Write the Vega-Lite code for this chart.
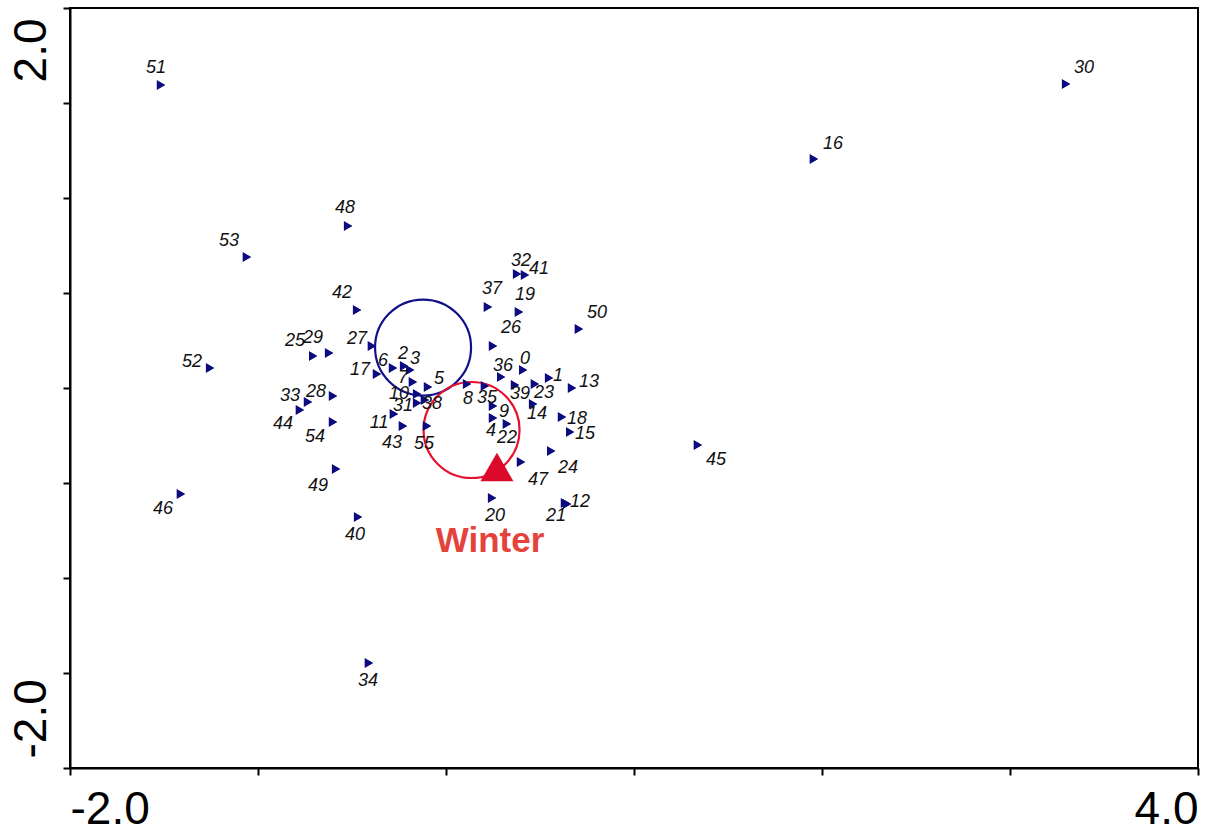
{
  "$schema": "https://vega.github.io/schema/vega-lite/v6.json",
  "width": 1128,
  "height": 760,
  "autosize": "none",
  "padding": {"left": 70, "top": 8, "right": 10, "bottom": 61},
  "background": "white",
  "config": {
    "view": {"stroke": "black", "strokeWidth": 2},
    "axis": {
      "grid": false,
      "domainColor": "black",
      "domainWidth": 2,
      "tickColor": "black",
      "tickWidth": 2,
      "tickSize": 7,
      "labelFont": "Liberation Sans",
      "labelFontSize": 46,
      "labelColor": "black",
      "labelPadding": 12
    }
  },
  "datasets": {
    "species": [
      {"id": "51", "x": -1.516, "y": 1.595, "lx": -1.543, "ly": 1.684},
      {"id": "30", "x": 3.298, "y": 1.6, "lx": 3.394, "ly": 1.684},
      {"id": "16", "x": 1.957, "y": 1.205, "lx": 2.059, "ly": 1.284},
      {"id": "48", "x": -0.521, "y": 0.853, "lx": -0.537, "ly": 0.947},
      {"id": "53", "x": -1.059, "y": 0.689, "lx": -1.154, "ly": 0.774},
      {"id": "52", "x": -1.255, "y": 0.105, "lx": -1.351, "ly": 0.137},
      {"id": "42", "x": -0.473, "y": 0.411, "lx": -0.553, "ly": 0.5},
      {"id": "25", "x": -0.707, "y": 0.168, "lx": -0.803, "ly": 0.247},
      {"id": "29", "x": -0.622, "y": 0.184, "lx": -0.707, "ly": 0.263},
      {"id": "27", "x": -0.394, "y": 0.221, "lx": -0.473, "ly": 0.258},
      {"id": "6", "x": -0.282, "y": 0.105, "lx": -0.335, "ly": 0.142},
      {"id": "2", "x": -0.223, "y": 0.116, "lx": -0.229, "ly": 0.179},
      {"id": "3", "x": -0.191, "y": 0.095, "lx": -0.165, "ly": 0.153},
      {"id": "17", "x": -0.367, "y": 0.074, "lx": -0.457, "ly": 0.095},
      {"id": "7", "x": -0.176, "y": 0.032, "lx": -0.229, "ly": 0.053},
      {"id": "5", "x": -0.096, "y": 0.005, "lx": -0.037, "ly": 0.047},
      {"id": "10", "x": -0.154, "y": -0.032, "lx": -0.25, "ly": -0.032},
      {"id": "31", "x": -0.154, "y": -0.079, "lx": -0.229, "ly": -0.095},
      {"id": "38", "x": -0.112, "y": -0.063, "lx": -0.074, "ly": -0.084},
      {"id": "11", "x": -0.277, "y": -0.137, "lx": -0.356, "ly": -0.184},
      {"id": "43", "x": -0.229, "y": -0.2, "lx": -0.287, "ly": -0.289},
      {"id": "55", "x": -0.101, "y": -0.2, "lx": -0.117, "ly": -0.295},
      {"id": "33", "x": -0.734, "y": -0.074, "lx": -0.83, "ly": -0.042},
      {"id": "28", "x": -0.601, "y": -0.042, "lx": -0.691, "ly": -0.021},
      {"id": "44", "x": -0.777, "y": -0.116, "lx": -0.867, "ly": -0.189},
      {"id": "54", "x": -0.601, "y": -0.179, "lx": -0.697, "ly": -0.258},
      {"id": "49", "x": -0.585, "y": -0.426, "lx": -0.681, "ly": -0.516},
      {"id": "46", "x": -1.41, "y": -0.558, "lx": -1.505, "ly": -0.637},
      {"id": "40", "x": -0.468, "y": -0.679, "lx": -0.484, "ly": -0.774},
      {"id": "34", "x": -0.41, "y": -1.447, "lx": -0.415, "ly": -1.542},
      {"id": "32", "x": 0.378, "y": 0.6, "lx": 0.399, "ly": 0.668},
      {"id": "41", "x": 0.42, "y": 0.595, "lx": 0.495, "ly": 0.626},
      {"id": "37", "x": 0.223, "y": 0.426, "lx": 0.245, "ly": 0.521},
      {"id": "19", "x": 0.388, "y": 0.4, "lx": 0.42, "ly": 0.489},
      {"id": "26", "x": 0.25, "y": 0.221, "lx": 0.346, "ly": 0.316},
      {"id": "50", "x": 0.707, "y": 0.311, "lx": 0.803, "ly": 0.395},
      {"id": "36", "x": 0.293, "y": 0.058, "lx": 0.303, "ly": 0.116},
      {"id": "0", "x": 0.41, "y": 0.095, "lx": 0.42, "ly": 0.153},
      {"id": "1", "x": 0.548, "y": 0.053, "lx": 0.596, "ly": 0.063},
      {"id": "13", "x": 0.67, "y": 0.0, "lx": 0.761, "ly": 0.032},
      {"id": "8", "x": 0.112, "y": 0.021, "lx": 0.117, "ly": -0.058},
      {"id": "35", "x": 0.207, "y": 0.011, "lx": 0.218, "ly": -0.053},
      {"id": "9", "x": 0.25, "y": -0.095, "lx": 0.309, "ly": -0.126},
      {"id": "4", "x": 0.25, "y": -0.158, "lx": 0.239, "ly": -0.226},
      {"id": "22", "x": 0.324, "y": -0.189, "lx": 0.324, "ly": -0.263},
      {"id": "39", "x": 0.367, "y": 0.016, "lx": 0.394, "ly": -0.032},
      {"id": "23", "x": 0.473, "y": 0.021, "lx": 0.521, "ly": -0.026},
      {"id": "14", "x": 0.463, "y": -0.084, "lx": 0.484, "ly": -0.137},
      {"id": "18", "x": 0.617, "y": -0.153, "lx": 0.697, "ly": -0.163},
      {"id": "15", "x": 0.66, "y": -0.232, "lx": 0.739, "ly": -0.242},
      {"id": "24", "x": 0.559, "y": -0.332, "lx": 0.649, "ly": -0.421},
      {"id": "47", "x": 0.399, "y": -0.389, "lx": 0.489, "ly": -0.484},
      {"id": "20", "x": 0.245, "y": -0.579, "lx": 0.261, "ly": -0.674},
      {"id": "12", "x": 0.644, "y": -0.611, "lx": 0.713, "ly": -0.6},
      {"id": "21", "x": 0.633, "y": -0.605, "lx": 0.585, "ly": -0.674},
      {"id": "45", "x": 1.34, "y": -0.3, "lx": 1.436, "ly": -0.379}
    ],
    "circles": [
      {"group": "blue", "x": -0.122, "y": 0.213},
      {"group": "red", "x": 0.136, "y": -0.221}
    ],
    "season": [
      {"name": "Winter", "x": 0.271, "y": -0.416, "lx": 0.234, "ly": -0.805}
    ]
  },
  "layer": [
    {
      "data": {"name": "species"},
      "mark": {"type": "point", "shape": "triangle-right", "filled": true, "size": 90, "color": "#0c0c80", "opacity": 1},
      "encoding": {
        "x": {
          "field": "x", "type": "quantitative", "title": null,
          "scale": {"domain": [-2, 4], "nice": false, "zero": false},
          "axis": {
            "values": [-2, -1, 0, 1, 2, 3, 4],
            "labelExpr": "datum.value == -2 ? '-2.0' : (datum.value == 4 ? '4.0' : '')",
            "labelFlush": true
          }
        },
        "y": {
          "field": "y", "type": "quantitative", "title": null,
          "scale": {"domain": [-2, 2], "nice": false, "zero": false},
          "axis": {
            "values": [-2, -1.5, -1, -0.5, 0, 0.5, 1, 1.5, 2],
            "labelExpr": "datum.value == -2 ? '-2.0' : (datum.value == 2 ? '2.0' : '')",
            "labelAngle": 270,
            "labelPadding": 18,
            "labelBaseline": "alphabetic",
            "labelAlign": {"condition": {"test": "datum.value == 2", "value": "right"}, "value": "left"},
            "labelOffset": {"condition": {"test": "datum.value == 2", "value": 10}, "value": -10}
          }
        }
      }
    },
    {
      "mark": {"type": "rule", "strokeDash": [1, 2], "color": "#444", "strokeWidth": 1},
      "encoding": {"x": {"datum": 0, "type": "quantitative"}}
    },
    {
      "mark": {"type": "rule", "strokeDash": [1, 2], "color": "#444", "strokeWidth": 1},
      "encoding": {"y": {"datum": 0, "type": "quantitative"}}
    },
    {
      "data": {"name": "circles"},
      "mark": {"type": "point", "shape": "circle", "filled": false, "size": 9216, "strokeWidth": 2.2, "opacity": 1},
      "encoding": {
        "x": {"field": "x", "type": "quantitative", "title": null},
        "y": {"field": "y", "type": "quantitative", "title": null},
        "color": {"field": "group", "type": "nominal", "legend": null, "scale": {"domain": ["blue", "red"], "range": ["#10108a", "#e5102e"]}}
      }
    },
    {
      "data": {"name": "species"},
      "mark": {"type": "point", "shape": "triangle-right", "filled": true, "size": 90, "color": "#0c0c80", "opacity": 1},
      "encoding": {
        "x": {"field": "x", "type": "quantitative", "title": null},
        "y": {"field": "y", "type": "quantitative", "title": null}
      }
    },
    {
      "data": {"name": "species"},
      "mark": {"type": "text", "font": "Liberation Sans", "fontSize": 18, "fontStyle": "italic", "color": "#111", "align": "center", "baseline": "middle"},
      "encoding": {
        "x": {"field": "lx", "type": "quantitative", "title": null},
        "y": {"field": "ly", "type": "quantitative", "title": null},
        "text": {"field": "id", "type": "nominal"}
      }
    },
    {
      "data": {"name": "season"},
      "mark": {"type": "point", "shape": "triangle-up", "filled": true, "size": 1089, "color": "#dc0a2a", "opacity": 1},
      "encoding": {
        "x": {"field": "x", "type": "quantitative", "title": null},
        "y": {"field": "y", "type": "quantitative", "title": null}
      }
    },
    {
      "data": {"name": "season"},
      "mark": {"type": "text", "font": "Liberation Sans", "fontSize": 35, "fontWeight": "bold", "color": "#e5423c", "align": "center", "baseline": "middle"},
      "encoding": {
        "x": {"field": "lx", "type": "quantitative", "title": null},
        "y": {"field": "ly", "type": "quantitative", "title": null},
        "text": {"field": "name", "type": "nominal"}
      }
    }
  ]
}
